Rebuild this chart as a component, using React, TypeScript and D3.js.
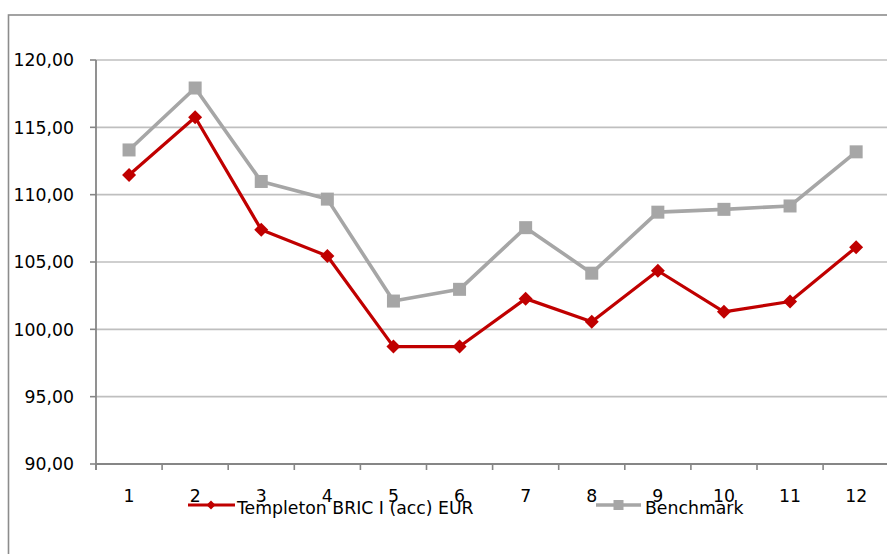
import React from "react";
import * as d3 from "d3";

const categories = ["1", "2", "3", "4", "5", "6", "7", "8", "9", "10", "11", "12"];
const fundValues = [111.46, 115.75, 107.4, 105.45, 98.72, 98.72, 102.28, 100.56, 104.35, 101.3, 102.07, 106.1];
const benchValues = [113.32, 117.92, 110.98, 109.67, 102.1, 102.97, 107.55, 104.17, 108.7, 108.91, 109.16, 113.18];
const yTicks = [90, 95, 100, 105, 110, 115, 120];
const seriesNames = ["Templeton BRIC I (acc) EUR", "Benchmark"];

const W = 887;
const H = 554;
const FONT = "'DejaVu Sans', Verdana, sans-serif";
const RED = "#C00000";
const GRAY = "#A6A6A6";
const FS = 17.3;

export default function App() {
  const x = d3.scaleBand<string>().domain(categories).range([96, 889.2]).padding(0);
  const y = d3.scaleLinear().domain([90, 120]).range([464, 60]);
  const cx = (c: string) => (x(c) as number) + x.bandwidth() / 2;
  const line = d3
    .line<number>()
    .x((_, i) => cx(categories[i]))
    .y((d) => y(d));
  const fmt = (v: number) => v.toFixed(2).replace(".", ",");
  const bounds = categories.map((c) => x(c) as number).concat([x.range()[1]]);

  return (
    <svg
      width={W}
      height={H}
      style={{ position: "absolute", left: 0, top: 0, background: "#fff" }}
      fontFamily={FONT}
    >
      <rect x={0} y={0} width={W} height={H} fill="#fff" />
      <rect x={8.5} y={15} width={W + 20} height={H + 20} fill="none" stroke="#8C8C8C" strokeWidth={1.6} />
      {/* gridlines */}
      {yTicks.slice(1).map((t) => (
        <line key={t} x1={96} x2={W} y1={y(t)} y2={y(t)} stroke="#BFBFBF" strokeWidth={1.6} />
      ))}
      {/* y axis */}
      <line x1={96} x2={96} y1={y(120)} y2={y(90) + 6} stroke="#868686" strokeWidth={1.8} />
      {yTicks.map((t) => (
        <g key={t}>
          <line x1={90} x2={96} y1={y(t)} y2={y(t)} stroke="#868686" strokeWidth={1.6} />
          <text x={74} y={y(t)} dy="0.36em" textAnchor="end" fontSize={FS} fill="#000">
            {fmt(t)}
          </text>
        </g>
      ))}
      {/* x axis */}
      <line x1={96} x2={W} y1={y(90)} y2={y(90)} stroke="#868686" strokeWidth={1.8} />
      {bounds.map((b, i) => (
        <line key={i} x1={b} x2={b} y1={y(90)} y2={y(90) + 6} stroke="#868686" strokeWidth={1.6} />
      ))}
      {categories.map((c) => (
        <text key={c} x={cx(c)} y={501.5} textAnchor="middle" fontSize={FS} fill="#000">
          {c}
        </text>
      ))}
      {/* benchmark series */}
      <path d={line(benchValues) as string} fill="none" stroke={GRAY} strokeWidth={3.6} strokeLinejoin="round" />
      {benchValues.map((v, i) => (
        <rect key={i} x={cx(categories[i]) - 6.5} y={y(v) - 6.5} width={13} height={13} fill={GRAY} />
      ))}
      {/* fund series */}
      <path d={line(fundValues) as string} fill="none" stroke={RED} strokeWidth={3.2} strokeLinejoin="round" />
      {fundValues.map((v, i) => {
        const px = cx(categories[i]);
        const py = y(v);
        const r = 7;
        return (
          <path key={i} d={`M${px},${py - r}L${px + r},${py}L${px},${py + r}L${px - r},${py}Z`} fill={RED} />
        );
      })}
      {/* legend */}
      <g>
        <line x1={188} x2={235} y1={505} y2={505} stroke={RED} strokeWidth={3.2} />
        <path d="M211,500.5L215.5,505L211,509.5L206.5,505Z" fill={RED} />
        <text x={237} y={513.5} fontSize={FS} fill="#000">
          {seriesNames[0]}
        </text>
        <line x1={596} x2={641} y1={505} y2={505} stroke={GRAY} strokeWidth={3.6} />
        <rect x={613.5} y={500} width={10} height={10} fill={GRAY} />
        <text x={645} y={513.5} fontSize={FS} fill="#000">
          {seriesNames[1]}
        </text>
      </g>
    </svg>
  );
}
